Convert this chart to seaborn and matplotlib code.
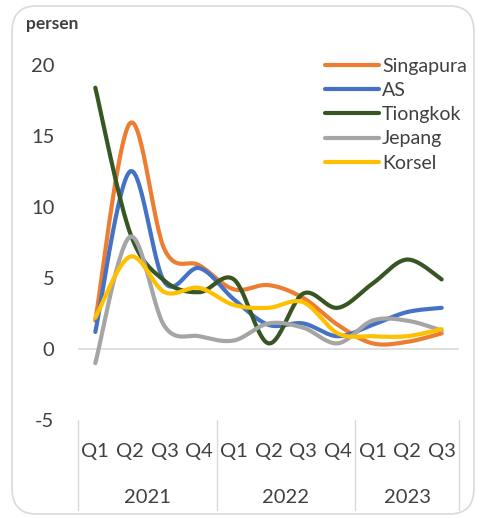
import numpy as np
import pandas as pd
import matplotlib
matplotlib.use("Agg")
import matplotlib.pyplot as plt
import seaborn as sns
from matplotlib.patches import FancyBboxPatch
import matplotlib.transforms as mtransforms

quarters = ["Q1", "Q2", "Q3", "Q4", "Q1", "Q2", "Q3", "Q4", "Q1", "Q2", "Q3"]
years = ["2021", "2022", "2023"]
year_spans = [(0, 3), (4, 7), (8, 10)]

singapura = [2.0, 15.9, 7.0, 5.9, 4.2, 4.5, 3.6, 1.7, 0.4, 0.5, 1.1]
as_ = [1.2, 12.5, 4.7, 5.7, 3.5, 1.7, 1.8, 0.9, 1.7, 2.6, 2.9]
tiongkok = [18.4, 8.2, 4.8, 4.0, 4.9, 0.4, 3.9, 2.9, 4.6, 6.3, 4.9]
jepang = [-1.0, 7.9, 1.6, 0.9, 0.6, 1.8, 1.5, 0.4, 2.0, 2.0, 1.3]
korsel = [2.2, 6.5, 4.0, 4.3, 3.1, 2.9, 3.3, 1.1, 0.9, 0.9, 1.4]

series = {"Singapura": singapura, "AS": as_, "Tiongkok": tiongkok,
          "Jepang": jepang, "Korsel": korsel}
colors = {"Singapura": "#ED7D31", "AS": "#4472C4", "Tiongkok": "#375623",
          "Jepang": "#A5A5A5", "Korsel": "#FFC000"}


def smooth(xs, ys, n=30):
    # Catmull-Rom style smoothing (like spreadsheet "smoothed line")
    xs = np.asarray(xs, float)
    ys = np.asarray(ys, float)
    P = np.column_stack([xs, ys])
    P = np.vstack([P[0], P, P[-1]])
    out = []
    for i in range(1, len(P) - 2):
        p0, p1, p2, p3 = P[i - 1], P[i], P[i + 1], P[i + 2]
        c1 = p1 + (p2 - p0) / 6.0
        c2 = p2 - (p3 - p1) / 6.0
        t = np.linspace(0, 1, n, endpoint=(i == len(P) - 3))[:, None]
        b = ((1 - t) ** 3) * p1 + 3 * ((1 - t) ** 2) * t * c1 + 3 * (1 - t) * t ** 2 * c2 + t ** 3 * p2
        out.append(b)
    out = np.vstack(out)
    return out[:, 0], out[:, 1]


rows = []
x_idx = np.arange(len(quarters))
for name, vals in series.items():
    sx, sy = smooth(x_idx, vals)
    for k, (a, b) in enumerate(zip(sx, sy)):
        rows.append({"x": a, "y": b, "order": k, "Negara": name})
df = pd.DataFrame(rows)

sns.set_theme(style="white")
plt.rcParams["font.family"] = ["Lato", "DejaVu Sans"]
text_color = "#404040"
fs = 14.5

fig = plt.figure(figsize=(4.82, 5.18), dpi=100)
ax = fig.add_axes([78 / 482, (518 - 420) / 518, (459 - 78) / 482, (420 - 65) / 518])

sns.lineplot(data=df, x="x", y="y", hue="Negara", units="Negara", estimator=None,
             sort=False, palette=colors, hue_order=list(series.keys()),
             linewidth=3.0, ax=ax, legend=True)

ax.set_xlim(-0.5, len(quarters) - 0.5)
ax.set_ylim(-5, 20)
ax.set_yticks([-5, 0, 5, 10, 15, 20])
ax.set_yticklabels(["-5", "0", "5", "10", "15", "20"])
ax.tick_params(axis="y", length=0, pad=17, labelsize=fs, labelcolor=text_color)
ax.set_xticks([])
ax.set_xlabel("")
ax.set_ylabel("")
for s in ax.spines.values():
    s.set_visible(False)
ax.axhline(0, color="#D9D9D9", lw=1.2, zorder=0)

trans = mtransforms.blended_transform_factory(ax.transData, ax.transAxes)
for i, q in enumerate(quarters):
    ax.text(i, -0.09, q, transform=trans, ha="center", va="center",
            fontsize=fs, color=text_color)
for (a, b), yr in zip(year_spans, years):
    ax.text((a + b) / 2, -0.217, yr, transform=trans, ha="center", va="center",
            fontsize=fs, color=text_color)
for xb in [-0.5, 3.5, 7.5, 10.5]:
    ax.plot([xb, xb], [0, -0.254], transform=trans, color="#D9D9D9", lw=1.0,
            clip_on=False)

leg = ax.legend(loc="upper left", bbox_to_anchor=(317 / 482, 1 - 50 / 518),
                bbox_transform=fig.transFigure, frameon=False, fontsize=14,
                handlelength=2.8, handletextpad=0.15, labelspacing=0.37,
                borderaxespad=0)
for t in leg.get_texts():
    t.set_color(text_color)

fig.text(26 / 482, 1 - 24 / 518, "persen", fontsize=12.5, fontweight="bold",
         color=text_color, va="center", ha="left")

border = FancyBboxPatch((12 / 482, 4 / 518), (482 - 20) / 482, (518 - 10) / 518,
                        boxstyle="round,pad=0,rounding_size=0.05",
                        transform=fig.transFigure, fill=False,
                        edgecolor="#D9D9D9", lw=1.2)
fig.patches.append(border)

fig.savefig("out.png", dpi=100)
